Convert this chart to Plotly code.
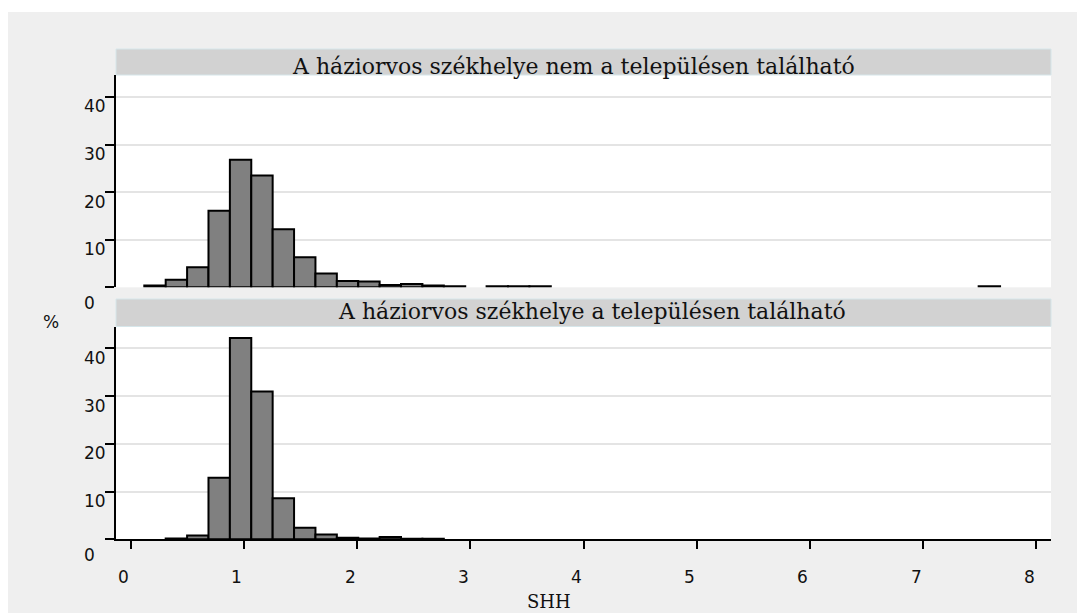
import plotly.graph_objects as go

# Histogram bins of SHH (shared by both panels)
BIN_START = 0.12
BIN_WIDTH = 0.189
N_BINS = 40

# Percent of practices per bin: GP seat outside the settlement
pct_elsewhere = [0.4, 1.6, 4.2, 16.1, 26.8, 23.5, 12.2, 6.3, 2.9, 1.3,
                 1.2, 0.5, 0.7, 0.4, 0.2, None, 0.2, 0.2, 0.2, None,
                 None, None, None, None, None, None, None, None, None, None,
                 None, None, None, None, None, None, None, None, None, 0.2]

# Percent of practices per bin: GP seat in the settlement
pct_local = [None, 0.15, 0.8, 12.9, 42.2, 31.0, 8.6, 2.4, 1.0, 0.35,
             0.15, 0.5, 0.1, 0.1, None, None, None, None, None, None,
             None, None, None, None, None, None, None, None, None, None,
             None, None, None, None, None, None, None, None, None, None]

panel_titles = ["A háziorvos székhelye nem a településen található",
                "A háziorvos székhelye a településen található"]
y_ticks = [0, 10, 20, 30, 40]
x_ticks = [0, 1, 2, 3, 4, 5, 6, 7, 8]
x_title = "SHH"
y_title = "%"

W, H = 1077, 613


def fy(px):
    return 1 - px / H


def fx(px):
    return px / W


centers = [BIN_START + BIN_WIDTH * (i + 0.5) for i in range(N_BINS)]

bar_style = dict(color="#808080", line=dict(color="black", width=2))

fig = go.Figure()
fig.add_trace(go.Bar(x=centers, y=pct_elsewhere, width=BIN_WIDTH,
                     marker=bar_style, xaxis="x2", yaxis="y2",
                     showlegend=False, hoverinfo="x+y"))
fig.add_trace(go.Bar(x=centers, y=pct_local, width=BIN_WIDTH,
                     marker=bar_style, xaxis="x", yaxis="y",
                     showlegend=False, hoverinfo="x+y"))

PLOT_L, PLOT_R = 116, 1051
TOP_PANEL = (75, 287.3)      # pixel top, bottom
BOT_PANEL = (326.5, 539.3)
STRIPS = [(49, 75), (299, 326.5)]
X_RANGE = [-0.13, 8.13]
Y_RANGE = [0, 44.6]

yaxis_style = dict(range=Y_RANGE, tickvals=y_ticks, showticklabels=False,
                   ticks="outside", ticklen=9, tickwidth=1.5, tickcolor="black",
                   showline=True, linecolor="black", linewidth=1.5,
                   showgrid=True, gridcolor="#e4e4e4", gridwidth=2,
                   zeroline=False, fixedrange=True)

fig.update_layout(
    width=W, height=H, autosize=False,
    margin=dict(l=0, r=0, t=0, b=0),
    paper_bgcolor="#efefef", plot_bgcolor="white",
    barmode="overlay",
    xaxis=dict(domain=[fx(PLOT_L), fx(PLOT_R)], range=X_RANGE, anchor="y",
               tickvals=x_ticks, showticklabels=False,
               ticks="outside", ticklen=8, tickwidth=1.5, tickcolor="black",
               showline=True, linecolor="black", linewidth=1.5,
               showgrid=False, zeroline=False, fixedrange=True),
    xaxis2=dict(domain=[fx(PLOT_L), fx(PLOT_R)], range=X_RANGE, anchor="y2",
                visible=False, fixedrange=True),
    yaxis=dict(domain=[fy(BOT_PANEL[1]), fy(BOT_PANEL[0])], anchor="x",
               **yaxis_style),
    yaxis2=dict(domain=[fy(TOP_PANEL[1]), fy(TOP_PANEL[0])], anchor="x2",
                **yaxis_style),
)

shapes = [
    # white page edge above and left of the graph region
    dict(type="rect", xref="paper", yref="paper", x0=0, x1=1, y0=fy(12), y1=1,
         fillcolor="white", line=dict(width=0), layer="below"),
    dict(type="rect", xref="paper", yref="paper", x0=0, x1=fx(8), y0=0, y1=1,
         fillcolor="white", line=dict(width=0), layer="below"),
]
annotations = []

sans = dict(family="DejaVu Sans", size=17, color="#111111")
serif_title = dict(family="DejaVu Serif", size=22, color="#111111")

# panel header strips and their titles
title_centers = [(573, 66), (592, 311)]
for (s_top, s_bot), title, (cx, cy) in zip(STRIPS, panel_titles, title_centers):
    shapes.append(dict(type="rect", xref="paper", yref="paper",
                       x0=fx(PLOT_L), x1=fx(PLOT_R), y0=fy(s_bot), y1=fy(s_top),
                       fillcolor="#d2d2d2", line=dict(color="#d6e6ea", width=1)))
    annotations.append(dict(text=title, xref="paper", yref="paper",
                            x=fx(cx), y=fy(cy), xanchor="center",
                            yanchor="middle", showarrow=False, font=serif_title))

# y tick labels for both panels
for yref in ["y", "y2"]:
    for v in y_ticks:
        annotations.append(dict(text=str(v), xref="paper", yref=yref,
                                x=fx(81.7), y=v, xanchor="left", yanchor="middle",
                                yshift=-15.5 if v == 0 else -9.5,
                                showarrow=False, font=sans))

# x tick labels under the lower panel
for v in x_ticks:
    annotations.append(dict(text=str(v), xref="x", yref="paper",
                            x=v, y=fy(577), xshift=-7, xanchor="center",
                            yanchor="middle", showarrow=False, font=sans))

annotations.append(dict(text=y_title, xref="paper", yref="paper",
                        x=fx(50.7), y=fy(321.7), xanchor="center",
                        yanchor="middle", showarrow=False, font=sans))
annotations.append(dict(text=x_title, xref="paper", yref="paper",
                        x=fx(549), y=fy(601), xanchor="center",
                        yanchor="middle", showarrow=False,
                        font=dict(family="DejaVu Serif", size=18, color="#111111")))

fig.update_layout(shapes=shapes, annotations=annotations)

fig.write_html("out.html")
